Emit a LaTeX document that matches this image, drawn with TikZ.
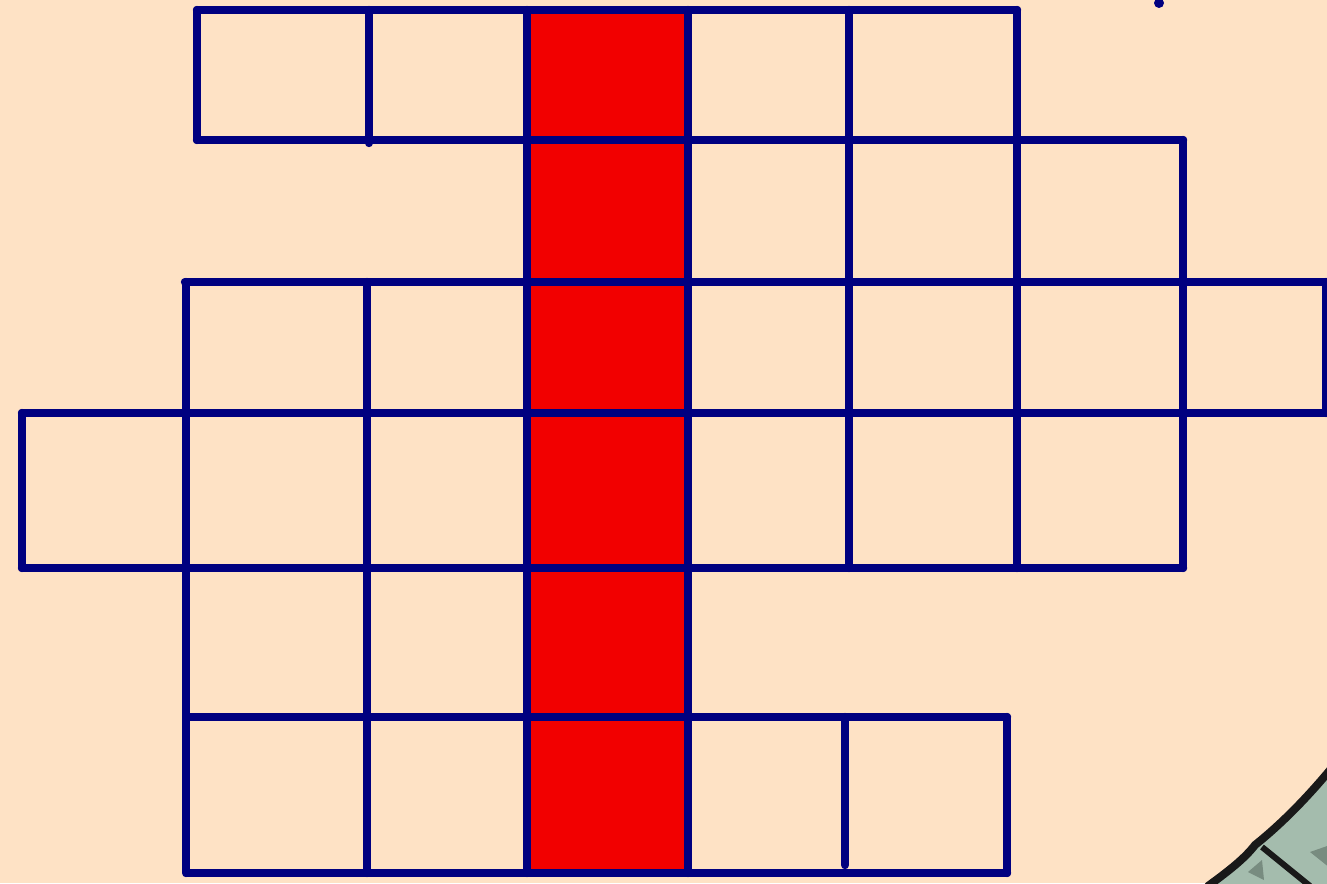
\documentclass[tikz,border=0pt]{standalone}
\begin{document}
\begin{tikzpicture}[x=0.5pt,y=-0.5pt,
  gridline/.style={draw=navyblue,line width=4.2pt,line cap=round}]
\definecolor{bg}{RGB}{254,226,197}
\definecolor{navyblue}{RGB}{0,0,128}
\definecolor{redcol}{RGB}{242,0,0}
\definecolor{sage}{RGB}{164,188,173}
\definecolor{sagedark}{RGB}{120,140,128}
\fill[bg] (0,0) rectangle (1327,883);
\useasboundingbox (0,0) rectangle (1327,883);
% red column
\fill[redcol] (527,10) rectangle (688,873);
% horizontals
\draw[gridline] (197,10) -- (1017,10);
\draw[gridline] (197,140) -- (1183,140);
\draw[gridline] (185,282) -- (1335,282);
\draw[gridline] (22,413) -- (1335,413);
\draw[gridline] (22,568) -- (1183,568);
\draw[gridline] (190,717) -- (1007,717);
\draw[gridline] (187,873) -- (1007,873);
% verticals
\draw[gridline] (197,10) -- (197,140);
\draw[gridline] (369,10) -- (369,143);
\draw[gridline] (527,10) -- (527,873);
\draw[gridline] (688,10) -- (688,873);
\draw[gridline] (849,10) -- (849,568);
\draw[gridline] (1017,10) -- (1017,568);
\draw[gridline] (1183,140) -- (1183,568);
\draw[gridline] (1326,282) -- (1326,413);
\draw[gridline] (186,282) -- (186,873);
\draw[gridline] (367,282) -- (367,873);
\draw[gridline] (22,413) -- (22,568);
\draw[gridline] (845,717) -- (845,865);
\draw[gridline] (1007,717) -- (1007,873);
% dot
\fill[navyblue] (1159,3) circle (5);
% corner shape
\fill[sage] (1208,886) .. controls (1230,870) and (1245,858) .. (1255,845)
  .. controls (1280,825) and (1305,800) .. (1330,770) -- (1330,886) -- cycle;
\fill[sagedark] (1310,852) -- (1330,845) -- (1330,868) -- cycle;
\fill[sagedark] (1248,872) -- (1262,860) -- (1264,880) -- cycle;
\draw[black!90,line width=4pt,line cap=round] (1208,886) .. controls (1230,870) and (1245,858) .. (1255,845)
  .. controls (1280,825) and (1305,800) .. (1330,770);
\draw[black!90,line width=3pt] (1262,847) -- (1310,886);
\end{tikzpicture}
\end{document}
